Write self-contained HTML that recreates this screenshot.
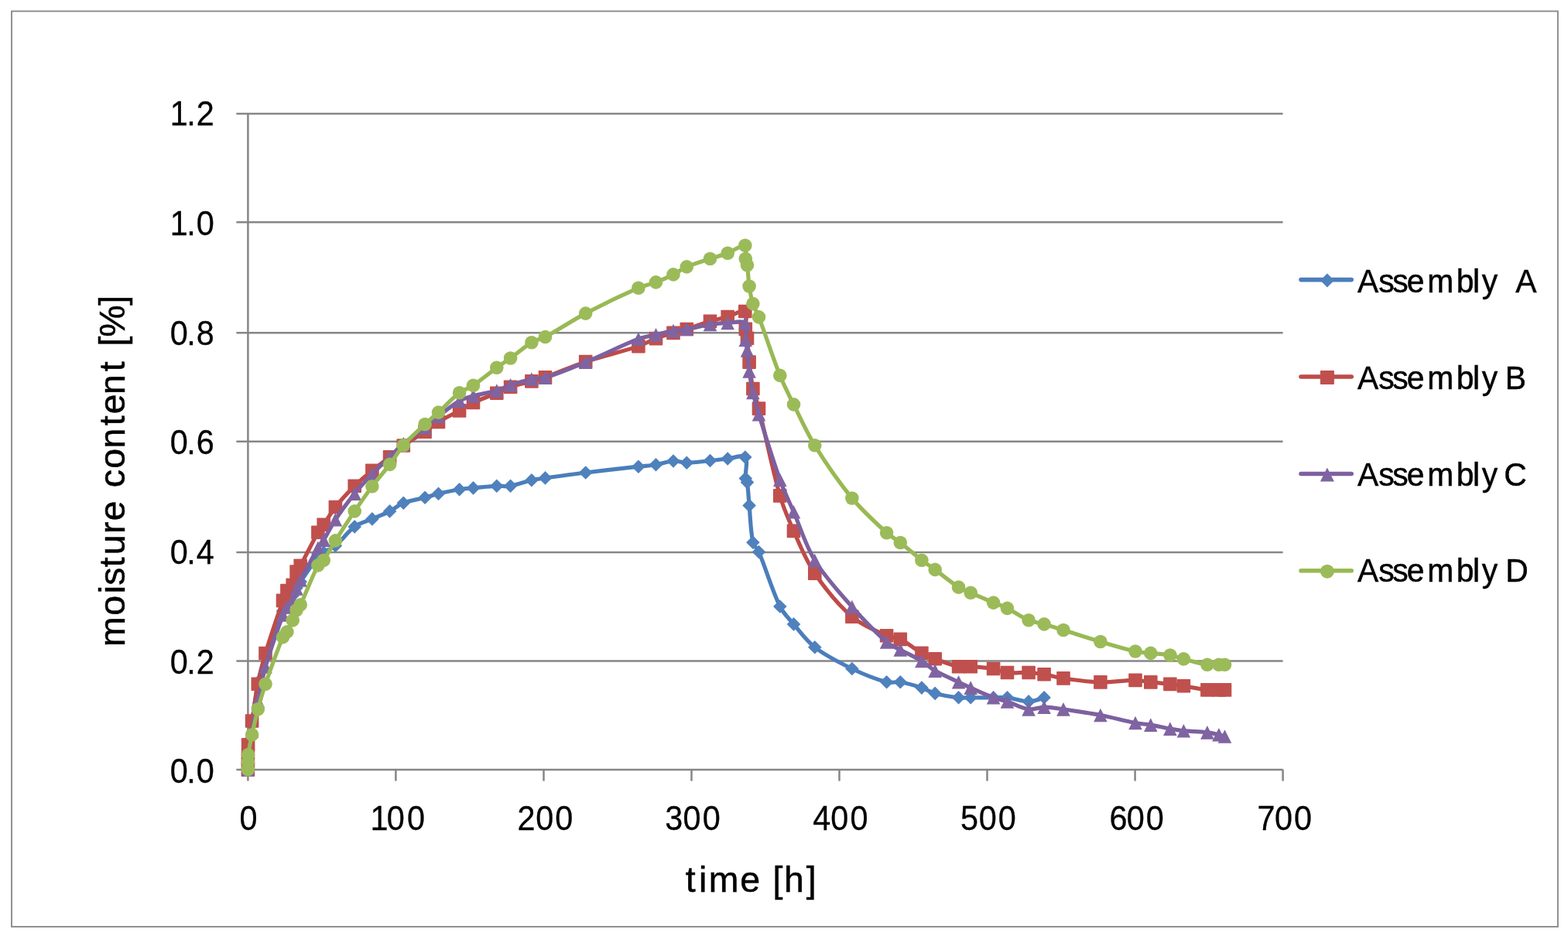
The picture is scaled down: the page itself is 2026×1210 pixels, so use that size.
<!DOCTYPE html>
<html lang="en"><head><meta charset="utf-8"><title>moisture content vs time</title>
<style>html,body{margin:0;padding:0;background:#fff}body{width:2026px;height:1210px;overflow:hidden}svg{display:block}text{font-family:"Liberation Sans",sans-serif;fill:#000;white-space:pre}</style></head><body>
<svg width="2026" height="1210" viewBox="0 0 2026 1210">
<rect x="0" y="0" width="2026" height="1210" fill="#fff"/>
<rect x="15.0" y="14.5" width="1997.9" height="1183.5" fill="none" stroke="#868686" stroke-width="1.8"/>
<g stroke="#868686" stroke-width="2.5" fill="none">
<path d="M305.4 147.1H1657.6"/>
<path d="M305.4 287.3H1657.6"/>
<path d="M305.4 430.2H1657.6"/>
<path d="M305.4 570.8H1657.6"/>
<path d="M305.4 714.0H1657.6"/>
<path d="M305.4 854.5H1657.6"/>
<path d="M305.4 994.9H1657.6"/>
<path d="M320.4 147.1V1009.6"/>
<path d="M511.4 994.9V1009.6"/>
<path d="M702.5 994.9V1009.6"/>
<path d="M893.5 994.9V1009.6"/>
<path d="M1084.5 994.9V1009.6"/>
<path d="M1275.5 994.9V1009.6"/>
<path d="M1466.6 994.9V1009.6"/>
<path d="M1657.6 994.9V1009.6"/>
</g>
<g fill="#4F81BD" stroke="none">
<path d="M320.4 994.9 C320.4 994.9 320.4 985.0 320.4 980.0 C320.4 975.0 320.0 970.0 320.6 965.0 C321.8 955.0 324.1 945.0 325.6 935.0 C328.3 917.4 329.8 899.5 333.3 882.0 C335.6 870.5 339.1 859.1 343.0 848.0 C349.8 828.4 357.6 809.2 365.5 790.0 C366.9 786.5 368.9 783.2 370.9 780.0 C373.1 776.5 376.1 773.5 378.2 770.0 C380.1 766.8 381.3 763.2 383.1 760.0 C384.6 757.2 386.4 754.6 388.2 752.0 C395.7 741.3 402.8 730.2 410.9 720.0 C412.8 717.5 415.6 715.7 418.2 714.0 C423.1 710.9 429.0 709.2 433.4 705.5 C442.3 698.1 448.9 687.6 458.2 680.9 C464.8 676.1 473.3 674.2 480.9 670.9 C488.5 667.6 496.3 664.7 503.6 660.9 C509.7 657.8 514.9 652.7 521.3 650.2 C530.1 646.8 539.9 645.7 549.1 643.2 C554.9 641.7 560.6 639.6 566.5 638.2 C575.5 636.1 584.5 634.2 593.6 632.7 C599.5 631.7 605.5 631.5 611.5 630.9 C621.6 630.0 631.7 628.8 641.8 628.2 C647.7 627.9 653.8 629.2 659.6 628.2 C668.8 626.7 677.7 622.8 686.9 620.7 C692.7 619.4 698.6 618.7 704.5 617.9 C721.9 615.5 739.3 613.1 756.7 611.0 C779.4 608.2 802.2 605.8 824.9 603.2 C832.4 602.3 840.0 601.9 847.5 600.7 C855.1 599.5 862.5 596.5 870.0 596.0 C875.7 595.6 881.5 598.3 887.3 598.2 C897.4 598.1 907.4 596.5 917.5 595.5 C925.1 594.8 932.6 593.8 940.2 593.0 C947.7 592.3 959.3 587.2 962.8 591.0 C967.0 595.7 962.6 609.5 963.3 618.5 C963.5 620.3 965.2 621.8 965.5 623.6 C966.8 633.4 967.2 643.5 968.1 653.4 C969.6 669.3 969.7 685.8 972.9 701.2 C973.9 705.8 978.6 709.1 980.5 713.5 C990.3 736.7 997.0 761.5 1007.8 784.0 C1012.0 792.6 1019.2 799.6 1025.5 806.9 C1034.2 817.1 1042.2 828.6 1052.8 836.7 C1067.3 847.8 1084.3 856.4 1100.9 864.5 C1115.2 871.5 1130.4 877.6 1145.6 881.8 C1151.2 883.4 1157.5 880.9 1163.3 881.8 C1172.6 883.3 1181.9 886.2 1190.9 889.1 C1196.8 891.0 1202.2 894.8 1208.2 896.4 C1218.1 899.0 1228.4 900.6 1238.6 901.8 C1243.7 902.4 1249.0 901.8 1254.2 901.8 C1264.0 901.8 1273.8 901.8 1283.6 901.8 C1289.6 901.8 1295.6 901.1 1301.5 901.8 C1310.8 902.8 1320.0 906.9 1329.1 906.9 C1335.8 906.9 1349.1 901.8 1349.1 901.8" fill="none" stroke="#4A7EBB" stroke-width="5.2" stroke-linecap="round" stroke-linejoin="round"/>
<path d="M320.4 986.1l8.8 8.8l-8.8 8.8l-8.8 -8.8z"/>
<path d="M320.4 971.2l8.8 8.8l-8.8 8.8l-8.8 -8.8z"/>
<path d="M320.6 956.2l8.8 8.8l-8.8 8.8l-8.8 -8.8z"/>
<path d="M325.6 926.2l8.8 8.8l-8.8 8.8l-8.8 -8.8z"/>
<path d="M333.3 873.2l8.8 8.8l-8.8 8.8l-8.8 -8.8z"/>
<path d="M343.0 839.2l8.8 8.8l-8.8 8.8l-8.8 -8.8z"/>
<path d="M365.5 781.2l8.8 8.8l-8.8 8.8l-8.8 -8.8z"/>
<path d="M370.9 771.2l8.8 8.8l-8.8 8.8l-8.8 -8.8z"/>
<path d="M378.2 761.2l8.8 8.8l-8.8 8.8l-8.8 -8.8z"/>
<path d="M383.1 751.2l8.8 8.8l-8.8 8.8l-8.8 -8.8z"/>
<path d="M388.2 743.2l8.8 8.8l-8.8 8.8l-8.8 -8.8z"/>
<path d="M410.9 711.2l8.8 8.8l-8.8 8.8l-8.8 -8.8z"/>
<path d="M418.2 705.2l8.8 8.8l-8.8 8.8l-8.8 -8.8z"/>
<path d="M433.4 696.7l8.8 8.8l-8.8 8.8l-8.8 -8.8z"/>
<path d="M458.2 672.1l8.8 8.8l-8.8 8.8l-8.8 -8.8z"/>
<path d="M480.9 662.1l8.8 8.8l-8.8 8.8l-8.8 -8.8z"/>
<path d="M503.6 652.1l8.8 8.8l-8.8 8.8l-8.8 -8.8z"/>
<path d="M521.3 641.4l8.8 8.8l-8.8 8.8l-8.8 -8.8z"/>
<path d="M549.1 634.4l8.8 8.8l-8.8 8.8l-8.8 -8.8z"/>
<path d="M566.5 629.4l8.8 8.8l-8.8 8.8l-8.8 -8.8z"/>
<path d="M593.6 623.9l8.8 8.8l-8.8 8.8l-8.8 -8.8z"/>
<path d="M611.5 622.1l8.8 8.8l-8.8 8.8l-8.8 -8.8z"/>
<path d="M641.8 619.4l8.8 8.8l-8.8 8.8l-8.8 -8.8z"/>
<path d="M659.6 619.4l8.8 8.8l-8.8 8.8l-8.8 -8.8z"/>
<path d="M686.9 611.9l8.8 8.8l-8.8 8.8l-8.8 -8.8z"/>
<path d="M704.5 609.1l8.8 8.8l-8.8 8.8l-8.8 -8.8z"/>
<path d="M756.7 602.2l8.8 8.8l-8.8 8.8l-8.8 -8.8z"/>
<path d="M824.9 594.4l8.8 8.8l-8.8 8.8l-8.8 -8.8z"/>
<path d="M847.5 591.9l8.8 8.8l-8.8 8.8l-8.8 -8.8z"/>
<path d="M870.0 587.2l8.8 8.8l-8.8 8.8l-8.8 -8.8z"/>
<path d="M887.3 589.4l8.8 8.8l-8.8 8.8l-8.8 -8.8z"/>
<path d="M917.5 586.7l8.8 8.8l-8.8 8.8l-8.8 -8.8z"/>
<path d="M940.2 584.2l8.8 8.8l-8.8 8.8l-8.8 -8.8z"/>
<path d="M962.8 582.2l8.8 8.8l-8.8 8.8l-8.8 -8.8z"/>
<path d="M963.3 609.7l8.8 8.8l-8.8 8.8l-8.8 -8.8z"/>
<path d="M965.5 614.8l8.8 8.8l-8.8 8.8l-8.8 -8.8z"/>
<path d="M968.1 644.6l8.8 8.8l-8.8 8.8l-8.8 -8.8z"/>
<path d="M972.9 692.4l8.8 8.8l-8.8 8.8l-8.8 -8.8z"/>
<path d="M980.5 704.7l8.8 8.8l-8.8 8.8l-8.8 -8.8z"/>
<path d="M1007.8 775.2l8.8 8.8l-8.8 8.8l-8.8 -8.8z"/>
<path d="M1025.5 798.1l8.8 8.8l-8.8 8.8l-8.8 -8.8z"/>
<path d="M1052.8 827.9l8.8 8.8l-8.8 8.8l-8.8 -8.8z"/>
<path d="M1100.9 855.7l8.8 8.8l-8.8 8.8l-8.8 -8.8z"/>
<path d="M1145.6 873.0l8.8 8.8l-8.8 8.8l-8.8 -8.8z"/>
<path d="M1163.3 873.0l8.8 8.8l-8.8 8.8l-8.8 -8.8z"/>
<path d="M1190.9 880.3l8.8 8.8l-8.8 8.8l-8.8 -8.8z"/>
<path d="M1208.2 887.6l8.8 8.8l-8.8 8.8l-8.8 -8.8z"/>
<path d="M1238.6 893.0l8.8 8.8l-8.8 8.8l-8.8 -8.8z"/>
<path d="M1254.2 893.0l8.8 8.8l-8.8 8.8l-8.8 -8.8z"/>
<path d="M1283.6 893.0l8.8 8.8l-8.8 8.8l-8.8 -8.8z"/>
<path d="M1301.5 893.0l8.8 8.8l-8.8 8.8l-8.8 -8.8z"/>
<path d="M1329.1 898.1l8.8 8.8l-8.8 8.8l-8.8 -8.8z"/>
<path d="M1349.1 893.0l8.8 8.8l-8.8 8.8l-8.8 -8.8z"/>
</g>
<g fill="#C0504D" stroke="none">
<path d="M320.4 994.9 C320.4 994.9 320.4 984.9 320.4 979.9 C320.4 974.2 320.0 968.4 320.6 962.7 C321.7 952.4 323.9 942.2 325.6 932.0 C328.2 916.1 330.2 900.1 333.3 884.3 C336.0 870.9 339.1 857.6 343.0 844.5 C349.8 821.6 357.7 799.0 365.5 776.4 C367.0 772.0 368.5 767.4 370.9 763.6 C372.7 760.8 376.7 759.4 378.2 756.4 C380.8 751.2 380.9 744.6 383.1 739.1 C384.2 736.2 386.7 734.0 388.2 731.3 C396.0 717.1 402.9 702.3 410.9 688.2 C412.9 684.6 415.9 681.6 418.2 678.2 C423.4 670.7 427.7 662.6 433.4 655.5 C441.1 645.9 449.5 636.9 458.2 628.2 C465.3 621.1 473.1 614.6 480.9 608.2 C488.2 602.2 496.2 596.8 503.6 590.9 C509.6 586.1 515.1 580.5 521.3 576.0 C530.2 569.6 540.0 564.4 549.1 558.2 C555.0 554.2 560.4 549.2 566.5 545.5 C575.2 540.1 584.6 535.9 593.6 530.9 C599.6 527.5 605.3 523.4 611.5 520.5 C621.3 515.9 631.8 512.4 641.8 508.2 C647.8 505.7 653.5 502.3 659.6 500.2 C668.5 497.2 677.8 495.4 686.9 492.9 C692.8 491.3 698.8 489.8 704.5 487.7 C722.0 481.4 739.0 473.5 756.7 467.6 C779.2 460.1 802.4 455.0 824.9 447.6 C832.7 445.0 839.8 440.5 847.5 437.6 C854.8 434.8 862.5 432.7 870.0 430.4 C875.7 428.7 881.6 427.3 887.3 425.5 C897.4 422.3 907.3 418.4 917.5 415.3 C925.0 413.0 932.7 411.6 940.2 409.5 C947.8 407.4 958.9 399.8 962.8 402.5 C966.6 405.1 962.7 417.8 963.3 425.4 C963.6 429.4 965.0 433.3 965.5 437.3 C966.6 447.5 966.9 457.9 968.1 468.1 C969.4 479.6 970.6 491.2 972.9 502.5 C974.7 511.2 978.3 519.5 980.5 528.1 C990.0 565.6 997.2 603.8 1007.8 640.9 C1012.2 656.5 1018.8 671.6 1025.5 686.4 C1033.8 705.0 1041.4 724.5 1052.8 741.2 C1066.5 761.4 1082.6 781.4 1100.9 797.3 C1113.5 808.3 1130.3 814.7 1145.6 821.8 C1151.1 824.4 1157.9 823.7 1163.3 826.4 C1173.0 831.2 1181.4 838.8 1190.9 844.2 C1196.4 847.3 1202.3 849.6 1208.2 851.8 C1218.2 855.5 1228.3 859.6 1238.6 861.8 C1243.6 862.9 1249.0 861.5 1254.2 861.8 C1264.0 862.4 1273.9 862.9 1283.6 864.5 C1289.7 865.5 1295.4 868.8 1301.5 869.5 C1310.6 870.5 1319.9 869.1 1329.1 869.5 C1335.8 869.8 1342.5 870.7 1349.1 871.8 C1357.5 873.2 1365.6 875.7 1374.0 876.9 C1389.9 879.1 1405.9 881.5 1421.9 881.9 C1436.9 882.3 1452.0 879.4 1467.0 879.4 C1473.6 879.4 1480.2 881.2 1486.8 881.9 C1495.2 882.8 1503.5 883.4 1511.9 884.4 C1517.7 885.1 1523.6 885.9 1529.4 886.8 C1539.6 888.4 1549.7 890.8 1559.9 891.9 C1564.9 892.5 1569.9 891.9 1574.9 891.9 C1577.4 891.9 1582.5 891.9 1582.5 891.9" fill="none" stroke="#BE4B48" stroke-width="5.2" stroke-linecap="round" stroke-linejoin="round"/>
<rect x="311.6" y="986.1" width="17.6" height="17.6" rx="0.8"/>
<rect x="311.6" y="971.1" width="17.6" height="17.6" rx="0.8"/>
<rect x="311.8" y="953.9" width="17.6" height="17.6" rx="0.8"/>
<rect x="316.8" y="923.2" width="17.6" height="17.6" rx="0.8"/>
<rect x="324.5" y="875.5" width="17.6" height="17.6" rx="0.8"/>
<rect x="334.2" y="835.7" width="17.6" height="17.6" rx="0.8"/>
<rect x="356.7" y="767.6" width="17.6" height="17.6" rx="0.8"/>
<rect x="362.1" y="754.8" width="17.6" height="17.6" rx="0.8"/>
<rect x="369.4" y="747.6" width="17.6" height="17.6" rx="0.8"/>
<rect x="374.3" y="730.3" width="17.6" height="17.6" rx="0.8"/>
<rect x="379.4" y="722.5" width="17.6" height="17.6" rx="0.8"/>
<rect x="402.1" y="679.4" width="17.6" height="17.6" rx="0.8"/>
<rect x="409.4" y="669.4" width="17.6" height="17.6" rx="0.8"/>
<rect x="424.6" y="646.7" width="17.6" height="17.6" rx="0.8"/>
<rect x="449.4" y="619.4" width="17.6" height="17.6" rx="0.8"/>
<rect x="472.1" y="599.4" width="17.6" height="17.6" rx="0.8"/>
<rect x="494.8" y="582.1" width="17.6" height="17.6" rx="0.8"/>
<rect x="512.5" y="567.2" width="17.6" height="17.6" rx="0.8"/>
<rect x="540.3" y="549.4" width="17.6" height="17.6" rx="0.8"/>
<rect x="557.7" y="536.7" width="17.6" height="17.6" rx="0.8"/>
<rect x="584.8" y="522.1" width="17.6" height="17.6" rx="0.8"/>
<rect x="602.7" y="511.7" width="17.6" height="17.6" rx="0.8"/>
<rect x="633.0" y="499.4" width="17.6" height="17.6" rx="0.8"/>
<rect x="650.8" y="491.4" width="17.6" height="17.6" rx="0.8"/>
<rect x="678.1" y="484.1" width="17.6" height="17.6" rx="0.8"/>
<rect x="695.7" y="478.9" width="17.6" height="17.6" rx="0.8"/>
<rect x="747.9" y="458.8" width="17.6" height="17.6" rx="0.8"/>
<rect x="816.1" y="438.8" width="17.6" height="17.6" rx="0.8"/>
<rect x="838.7" y="428.8" width="17.6" height="17.6" rx="0.8"/>
<rect x="861.2" y="421.6" width="17.6" height="17.6" rx="0.8"/>
<rect x="878.5" y="416.7" width="17.6" height="17.6" rx="0.8"/>
<rect x="908.7" y="406.5" width="17.6" height="17.6" rx="0.8"/>
<rect x="931.4" y="400.7" width="17.6" height="17.6" rx="0.8"/>
<rect x="954.0" y="393.7" width="17.6" height="17.6" rx="0.8"/>
<rect x="954.5" y="416.6" width="17.6" height="17.6" rx="0.8"/>
<rect x="956.7" y="428.5" width="17.6" height="17.6" rx="0.8"/>
<rect x="959.3" y="459.3" width="17.6" height="17.6" rx="0.8"/>
<rect x="964.1" y="493.7" width="17.6" height="17.6" rx="0.8"/>
<rect x="971.7" y="519.3" width="17.6" height="17.6" rx="0.8"/>
<rect x="999.0" y="632.1" width="17.6" height="17.6" rx="0.8"/>
<rect x="1016.7" y="677.6" width="17.6" height="17.6" rx="0.8"/>
<rect x="1044.0" y="732.4" width="17.6" height="17.6" rx="0.8"/>
<rect x="1092.1" y="788.5" width="17.6" height="17.6" rx="0.8"/>
<rect x="1136.8" y="813.0" width="17.6" height="17.6" rx="0.8"/>
<rect x="1154.5" y="817.6" width="17.6" height="17.6" rx="0.8"/>
<rect x="1182.1" y="835.4" width="17.6" height="17.6" rx="0.8"/>
<rect x="1199.4" y="843.0" width="17.6" height="17.6" rx="0.8"/>
<rect x="1229.8" y="853.0" width="17.6" height="17.6" rx="0.8"/>
<rect x="1245.4" y="853.0" width="17.6" height="17.6" rx="0.8"/>
<rect x="1274.8" y="855.7" width="17.6" height="17.6" rx="0.8"/>
<rect x="1292.7" y="860.7" width="17.6" height="17.6" rx="0.8"/>
<rect x="1320.3" y="860.7" width="17.6" height="17.6" rx="0.8"/>
<rect x="1340.3" y="863.0" width="17.6" height="17.6" rx="0.8"/>
<rect x="1365.2" y="868.1" width="17.6" height="17.6" rx="0.8"/>
<rect x="1413.1" y="873.1" width="17.6" height="17.6" rx="0.8"/>
<rect x="1458.2" y="870.6" width="17.6" height="17.6" rx="0.8"/>
<rect x="1478.0" y="873.1" width="17.6" height="17.6" rx="0.8"/>
<rect x="1503.1" y="875.6" width="17.6" height="17.6" rx="0.8"/>
<rect x="1520.6" y="878.0" width="17.6" height="17.6" rx="0.8"/>
<rect x="1551.1" y="883.1" width="17.6" height="17.6" rx="0.8"/>
<rect x="1566.1" y="883.1" width="17.6" height="17.6" rx="0.8"/>
<rect x="1573.7" y="883.1" width="17.6" height="17.6" rx="0.8"/>
</g>
<g fill="#8064A2" stroke="none">
<path d="M320.4 994.9 C320.4 994.9 320.4 989.0 320.4 986.0 C320.4 983.5 320.3 981.0 320.6 978.6 C322.0 967.4 323.6 956.2 325.6 945.0 C327.9 932.0 330.6 919.0 333.3 906.0 C336.4 891.3 338.8 876.4 343.0 862.0 C349.6 839.4 357.5 817.1 365.5 795.0 C366.8 791.4 368.9 788.2 370.9 785.0 C373.1 781.5 376.3 778.6 378.2 775.0 C380.4 770.6 381.3 765.6 383.1 761.0 C384.6 757.3 386.3 753.6 388.2 750.0 C395.6 736.0 403.0 721.9 410.9 708.2 C413.0 704.6 416.0 701.7 418.2 698.2 C423.5 689.6 427.8 680.2 433.4 671.8 C441.1 660.2 449.5 649.0 458.2 638.2 C465.3 629.3 473.0 620.9 480.9 612.7 C488.2 605.2 496.1 598.3 503.6 591.0 C509.5 585.2 515.0 578.9 521.3 573.6 C530.2 566.1 540.0 559.8 549.1 552.7 C555.0 548.0 560.5 542.8 566.5 538.2 C575.4 531.3 584.0 523.8 593.6 518.2 C599.0 515.0 605.4 513.5 611.5 511.8 C621.5 509.1 631.9 507.9 641.8 505.0 C647.9 503.2 653.5 499.8 659.6 497.8 C668.6 494.8 677.7 492.0 686.9 490.0 C692.6 488.8 698.9 489.9 704.5 488.2 C722.2 482.7 739.5 475.3 756.7 468.2 C779.6 458.7 801.8 447.2 824.9 438.2 C832.1 435.4 840.0 434.5 847.5 432.7 C855.0 430.9 862.4 429.0 870.0 427.6 C875.7 426.6 881.6 426.5 887.3 425.5 C897.4 423.8 907.4 421.1 917.5 419.5 C925.0 418.4 932.6 417.7 940.2 417.4 C947.7 417.1 958.9 414.0 962.8 417.8 C966.6 421.4 962.7 432.3 963.3 439.5 C963.6 444.0 965.0 448.4 965.5 452.9 C966.6 461.9 966.9 471.0 968.1 480.0 C969.3 489.2 970.9 498.4 972.9 507.5 C975.0 517.0 977.6 526.4 980.5 535.7 C989.3 564.0 997.8 592.4 1007.8 620.3 C1012.8 634.5 1019.5 648.0 1025.5 661.8 C1034.5 682.7 1041.0 705.2 1052.8 724.5 C1066.1 746.1 1084.0 765.3 1100.9 784.5 C1114.9 800.4 1129.8 816.0 1145.6 830.0 C1150.6 834.5 1157.3 836.8 1163.3 840.0 C1172.4 844.9 1182.0 849.1 1190.9 854.5 C1197.0 858.2 1202.0 863.6 1208.2 867.1 C1217.9 872.7 1228.4 876.9 1238.6 881.8 C1243.8 884.3 1249.0 886.8 1254.2 889.1 C1264.0 893.4 1273.6 898.0 1283.6 901.8 C1289.4 904.0 1295.6 904.9 1301.5 906.9 C1310.8 910.0 1319.7 915.5 1329.1 916.9 C1335.6 917.9 1342.4 914.2 1349.1 914.2 C1357.4 914.2 1365.7 915.7 1374.0 916.9 C1390.0 919.2 1406.0 921.5 1421.9 924.5 C1437.0 927.4 1451.9 931.6 1467.0 934.5 C1473.5 935.8 1480.2 936.0 1486.8 937.1 C1495.2 938.5 1503.5 940.6 1511.9 942.1 C1517.7 943.1 1523.5 944.1 1529.4 944.7 C1539.5 945.7 1549.8 945.8 1559.9 946.9 C1565.0 947.5 1569.9 948.7 1574.9 949.8 C1577.5 950.4 1582.5 952.0 1582.5 952.0" fill="none" stroke="#7D60A0" stroke-width="5.2" stroke-linecap="round" stroke-linejoin="round"/>
<path d="M320.4 986.1l8.8 17.6l-17.6 0z"/>
<path d="M320.4 977.2l8.8 17.6l-17.6 0z"/>
<path d="M320.6 969.8l8.8 17.6l-17.6 0z"/>
<path d="M325.6 936.2l8.8 17.6l-17.6 0z"/>
<path d="M333.3 897.2l8.8 17.6l-17.6 0z"/>
<path d="M343.0 853.2l8.8 17.6l-17.6 0z"/>
<path d="M365.5 786.2l8.8 17.6l-17.6 0z"/>
<path d="M370.9 776.2l8.8 17.6l-17.6 0z"/>
<path d="M378.2 766.2l8.8 17.6l-17.6 0z"/>
<path d="M383.1 752.2l8.8 17.6l-17.6 0z"/>
<path d="M388.2 741.2l8.8 17.6l-17.6 0z"/>
<path d="M410.9 699.4l8.8 17.6l-17.6 0z"/>
<path d="M418.2 689.4l8.8 17.6l-17.6 0z"/>
<path d="M433.4 663.0l8.8 17.6l-17.6 0z"/>
<path d="M458.2 629.4l8.8 17.6l-17.6 0z"/>
<path d="M480.9 603.9l8.8 17.6l-17.6 0z"/>
<path d="M503.6 582.2l8.8 17.6l-17.6 0z"/>
<path d="M521.3 564.8l8.8 17.6l-17.6 0z"/>
<path d="M549.1 543.9l8.8 17.6l-17.6 0z"/>
<path d="M566.5 529.4l8.8 17.6l-17.6 0z"/>
<path d="M593.6 509.4l8.8 17.6l-17.6 0z"/>
<path d="M611.5 503.0l8.8 17.6l-17.6 0z"/>
<path d="M641.8 496.2l8.8 17.6l-17.6 0z"/>
<path d="M659.6 489.0l8.8 17.6l-17.6 0z"/>
<path d="M686.9 481.2l8.8 17.6l-17.6 0z"/>
<path d="M704.5 479.4l8.8 17.6l-17.6 0z"/>
<path d="M756.7 459.4l8.8 17.6l-17.6 0z"/>
<path d="M824.9 429.4l8.8 17.6l-17.6 0z"/>
<path d="M847.5 423.9l8.8 17.6l-17.6 0z"/>
<path d="M870.0 418.8l8.8 17.6l-17.6 0z"/>
<path d="M887.3 416.7l8.8 17.6l-17.6 0z"/>
<path d="M917.5 410.7l8.8 17.6l-17.6 0z"/>
<path d="M940.2 408.6l8.8 17.6l-17.6 0z"/>
<path d="M962.8 409.0l8.8 17.6l-17.6 0z"/>
<path d="M963.3 430.7l8.8 17.6l-17.6 0z"/>
<path d="M965.5 444.1l8.8 17.6l-17.6 0z"/>
<path d="M968.1 471.2l8.8 17.6l-17.6 0z"/>
<path d="M972.9 498.7l8.8 17.6l-17.6 0z"/>
<path d="M980.5 526.9l8.8 17.6l-17.6 0z"/>
<path d="M1007.8 611.5l8.8 17.6l-17.6 0z"/>
<path d="M1025.5 653.0l8.8 17.6l-17.6 0z"/>
<path d="M1052.8 715.7l8.8 17.6l-17.6 0z"/>
<path d="M1100.9 775.7l8.8 17.6l-17.6 0z"/>
<path d="M1145.6 821.2l8.8 17.6l-17.6 0z"/>
<path d="M1163.3 831.2l8.8 17.6l-17.6 0z"/>
<path d="M1190.9 845.7l8.8 17.6l-17.6 0z"/>
<path d="M1208.2 858.3l8.8 17.6l-17.6 0z"/>
<path d="M1238.6 873.0l8.8 17.6l-17.6 0z"/>
<path d="M1254.2 880.3l8.8 17.6l-17.6 0z"/>
<path d="M1283.6 893.0l8.8 17.6l-17.6 0z"/>
<path d="M1301.5 898.1l8.8 17.6l-17.6 0z"/>
<path d="M1329.1 908.1l8.8 17.6l-17.6 0z"/>
<path d="M1349.1 905.4l8.8 17.6l-17.6 0z"/>
<path d="M1374.0 908.1l8.8 17.6l-17.6 0z"/>
<path d="M1421.9 915.7l8.8 17.6l-17.6 0z"/>
<path d="M1467.0 925.7l8.8 17.6l-17.6 0z"/>
<path d="M1486.8 928.3l8.8 17.6l-17.6 0z"/>
<path d="M1511.9 933.3l8.8 17.6l-17.6 0z"/>
<path d="M1529.4 935.9l8.8 17.6l-17.6 0z"/>
<path d="M1559.9 938.1l8.8 17.6l-17.6 0z"/>
<path d="M1574.9 941.0l8.8 17.6l-17.6 0z"/>
<path d="M1582.5 943.2l8.8 17.6l-17.6 0z"/>
</g>
<g fill="#9BBB59" stroke="none">
<path d="M320.4 994.9 C320.4 994.9 320.4 988.5 320.4 985.3 C320.4 982.1 320.1 978.8 320.6 975.6 C321.9 967.0 323.8 958.4 325.6 949.8 C328.0 938.8 330.4 927.7 333.3 916.8 C336.2 905.9 339.3 895.0 343.0 884.3 C350.0 863.9 357.3 843.4 365.5 823.6 C366.6 821.0 369.5 819.4 370.9 816.9 C373.7 812.1 376.0 807.0 378.2 801.9 C380.1 797.6 381.0 792.9 383.1 788.7 C384.4 786.2 387.0 784.4 388.2 781.8 C396.2 765.1 402.4 747.2 410.9 730.9 C412.4 728.0 416.3 726.9 418.2 724.2 C423.8 716.2 428.1 707.2 433.4 698.9 C441.5 686.1 449.7 673.4 458.2 660.9 C465.6 650.0 473.0 639.2 480.9 628.7 C488.2 619.0 496.3 610.0 503.6 600.4 C509.7 592.4 514.7 583.4 521.3 575.8 C529.8 566.1 539.7 557.4 549.1 548.5 C554.7 543.2 560.8 538.3 566.5 533.1 C575.6 524.8 583.9 515.3 593.6 507.8 C598.9 503.7 605.9 502.0 611.5 498.2 C622.0 491.1 631.6 482.8 641.8 475.3 C647.6 471.0 653.8 467.2 659.6 463.0 C668.8 456.4 677.3 448.6 686.9 442.7 C692.3 439.4 698.9 438.5 704.5 435.5 C722.2 426.0 738.9 414.5 756.7 405.1 C779.0 393.4 801.9 382.4 824.9 372.2 C832.1 369.0 840.1 367.7 847.5 364.9 C855.2 362.0 862.7 358.6 870.0 354.9 C875.9 351.9 881.2 347.5 887.3 344.9 C897.0 340.7 907.4 337.9 917.5 334.5 C925.0 332.0 932.8 330.1 940.2 327.3 C947.9 324.4 958.3 315.9 962.8 317.3 C966.0 318.3 962.7 328.8 963.3 334.5 C963.6 337.3 965.1 339.9 965.5 342.7 C966.7 351.7 966.8 361.0 968.1 370.0 C969.2 377.6 970.6 385.3 972.9 392.6 C974.8 398.6 978.3 404.0 980.5 409.9 C989.9 434.9 997.9 460.6 1007.8 485.4 C1012.9 498.2 1019.3 510.5 1025.5 522.9 C1034.3 540.7 1042.3 559.0 1052.8 575.8 C1067.5 599.4 1083.3 622.6 1100.9 644.0 C1114.2 660.2 1130.1 674.5 1145.6 688.7 C1150.9 693.6 1157.6 697.0 1163.3 701.5 C1172.7 708.8 1181.5 716.9 1190.9 724.2 C1196.5 728.5 1202.5 732.2 1208.2 736.4 C1218.4 743.9 1228.0 752.3 1238.6 759.1 C1243.4 762.2 1249.0 763.9 1254.2 766.2 C1264.0 770.5 1273.8 774.9 1283.6 779.1 C1289.5 781.6 1295.7 783.5 1301.5 786.4 C1310.9 791.1 1319.5 797.7 1329.1 801.8 C1335.4 804.5 1342.5 805.0 1349.1 806.9 C1357.4 809.3 1365.7 811.9 1374.0 814.5 C1390.0 819.5 1405.9 824.8 1421.9 829.5 C1436.9 833.9 1451.8 838.5 1467.0 842.0 C1473.5 843.5 1480.2 843.7 1486.8 844.4 C1495.2 845.3 1503.6 845.5 1511.9 847.0 C1517.8 848.0 1523.5 850.4 1529.4 851.9 C1539.5 854.5 1549.6 857.6 1559.9 859.3 C1564.8 860.1 1569.9 859.3 1574.9 859.3 C1577.4 859.3 1582.5 859.3 1582.5 859.3" fill="none" stroke="#98B954" stroke-width="5.2" stroke-linecap="round" stroke-linejoin="round"/>
<circle cx="320.4" cy="994.9" r="8.8"/>
<circle cx="320.4" cy="985.3" r="8.8"/>
<circle cx="320.6" cy="975.6" r="8.8"/>
<circle cx="325.6" cy="949.8" r="8.8"/>
<circle cx="333.3" cy="916.8" r="8.8"/>
<circle cx="343.0" cy="884.3" r="8.8"/>
<circle cx="365.5" cy="823.6" r="8.8"/>
<circle cx="370.9" cy="816.9" r="8.8"/>
<circle cx="378.2" cy="801.9" r="8.8"/>
<circle cx="383.1" cy="788.7" r="8.8"/>
<circle cx="388.2" cy="781.8" r="8.8"/>
<circle cx="410.9" cy="730.9" r="8.8"/>
<circle cx="418.2" cy="724.2" r="8.8"/>
<circle cx="433.4" cy="698.9" r="8.8"/>
<circle cx="458.2" cy="660.9" r="8.8"/>
<circle cx="480.9" cy="628.7" r="8.8"/>
<circle cx="503.6" cy="600.4" r="8.8"/>
<circle cx="521.3" cy="575.8" r="8.8"/>
<circle cx="549.1" cy="548.5" r="8.8"/>
<circle cx="566.5" cy="533.1" r="8.8"/>
<circle cx="593.6" cy="507.8" r="8.8"/>
<circle cx="611.5" cy="498.2" r="8.8"/>
<circle cx="641.8" cy="475.3" r="8.8"/>
<circle cx="659.6" cy="463.0" r="8.8"/>
<circle cx="686.9" cy="442.7" r="8.8"/>
<circle cx="704.5" cy="435.5" r="8.8"/>
<circle cx="756.7" cy="405.1" r="8.8"/>
<circle cx="824.9" cy="372.2" r="8.8"/>
<circle cx="847.5" cy="364.9" r="8.8"/>
<circle cx="870.0" cy="354.9" r="8.8"/>
<circle cx="887.3" cy="344.9" r="8.8"/>
<circle cx="917.5" cy="334.5" r="8.8"/>
<circle cx="940.2" cy="327.3" r="8.8"/>
<circle cx="962.8" cy="317.3" r="8.8"/>
<circle cx="963.3" cy="334.5" r="8.8"/>
<circle cx="965.5" cy="342.7" r="8.8"/>
<circle cx="968.1" cy="370.0" r="8.8"/>
<circle cx="972.9" cy="392.6" r="8.8"/>
<circle cx="980.5" cy="409.9" r="8.8"/>
<circle cx="1007.8" cy="485.4" r="8.8"/>
<circle cx="1025.5" cy="522.9" r="8.8"/>
<circle cx="1052.8" cy="575.8" r="8.8"/>
<circle cx="1100.9" cy="644.0" r="8.8"/>
<circle cx="1145.6" cy="688.7" r="8.8"/>
<circle cx="1163.3" cy="701.5" r="8.8"/>
<circle cx="1190.9" cy="724.2" r="8.8"/>
<circle cx="1208.2" cy="736.4" r="8.8"/>
<circle cx="1238.6" cy="759.1" r="8.8"/>
<circle cx="1254.2" cy="766.2" r="8.8"/>
<circle cx="1283.6" cy="779.1" r="8.8"/>
<circle cx="1301.5" cy="786.4" r="8.8"/>
<circle cx="1329.1" cy="801.8" r="8.8"/>
<circle cx="1349.1" cy="806.9" r="8.8"/>
<circle cx="1374.0" cy="814.5" r="8.8"/>
<circle cx="1421.9" cy="829.5" r="8.8"/>
<circle cx="1467.0" cy="842.0" r="8.8"/>
<circle cx="1486.8" cy="844.4" r="8.8"/>
<circle cx="1511.9" cy="847.0" r="8.8"/>
<circle cx="1529.4" cy="851.9" r="8.8"/>
<circle cx="1559.9" cy="859.3" r="8.8"/>
<circle cx="1574.9" cy="859.3" r="8.8"/>
<circle cx="1582.5" cy="859.3" r="8.8"/>
</g>
<g fill="#4F81BD"><path d="M1681.0 361.6H1746.2" stroke="#4A7EBB" stroke-width="5.6" stroke-linecap="round" fill="none"/><path d="M1714.9 353.5l9.0 9.0l-9.0 9.0l-9.0 -9.0z"/></g>
<g fill="#C0504D"><path d="M1681.0 487.0H1746.2" stroke="#BE4B48" stroke-width="5.6" stroke-linecap="round" fill="none"/><rect x="1705.9" y="478.9" width="18.0" height="18.0" rx="0.8"/></g>
<g fill="#8064A2"><path d="M1681.0 612.5H1746.2" stroke="#7D60A0" stroke-width="5.6" stroke-linecap="round" fill="none"/><path d="M1714.9 604.4l9.0 18.0l-18.0 0z"/></g>
<g fill="#9BBB59"><path d="M1681.0 737.8H1746.2" stroke="#98B954" stroke-width="5.6" stroke-linecap="round" fill="none"/><circle cx="1714.9" cy="738.7" r="9.0"/></g>
<text transform="translate(1754.00 378.00) scale(0.950 1)" font-size="43" stroke="#000" stroke-width="0.5" x="0.13 28.59 47.53 67.14 95.13 134.40 156.90 169.08 190.58 202.53 215.13" y="0" xml:space="preserve">Assembly  A</text>
<text transform="translate(1754.00 503.00) scale(0.950 1)" font-size="43" stroke="#000" stroke-width="0.5" x="0.13 28.59 47.53 67.14 95.13 134.40 156.90 169.08 190.58 200.92" y="0" xml:space="preserve">Assembly B</text>
<text transform="translate(1754.00 628.00) scale(0.950 1)" font-size="43" stroke="#000" stroke-width="0.5" x="0.13 28.59 47.53 67.14 95.13 134.40 156.90 169.08 190.58 199.25" y="0" xml:space="preserve">Assembly C</text>
<text transform="translate(1754.00 752.00) scale(0.950 1)" font-size="43" stroke="#000" stroke-width="0.5" x="0.13 28.59 47.53 67.14 95.13 134.40 156.90 169.08 190.58 201.37" y="0" xml:space="preserve">Assembly D</text>
<text transform="translate(200.00 162.10) scale(0.950 1)" font-size="43.6" stroke="#000" stroke-width="0.3" x="20.82 43.36 56.51" y="0" xml:space="preserve">1.2</text>
<text transform="translate(200.00 303.80) scale(0.950 1)" font-size="43.6" stroke="#000" stroke-width="0.3" x="20.82 43.36 56.51" y="0" xml:space="preserve">1.0</text>
<text transform="translate(200.00 445.50) scale(0.950 1)" font-size="43.6" stroke="#000" stroke-width="0.3" x="20.82 43.36 56.51" y="0" xml:space="preserve">0.8</text>
<text transform="translate(200.00 587.20) scale(0.950 1)" font-size="43.6" stroke="#000" stroke-width="0.3" x="20.82 43.36 56.51" y="0" xml:space="preserve">0.6</text>
<text transform="translate(200.00 728.90) scale(0.950 1)" font-size="43.6" stroke="#000" stroke-width="0.3" x="20.82 43.36 56.51" y="0" xml:space="preserve">0.4</text>
<text transform="translate(200.00 870.60) scale(0.950 1)" font-size="43.6" stroke="#000" stroke-width="0.3" x="20.82 43.36 56.51" y="0" xml:space="preserve">0.2</text>
<text transform="translate(200.00 1012.30) scale(0.950 1)" font-size="43.6" stroke="#000" stroke-width="0.3" x="20.82 43.36 56.51" y="0" xml:space="preserve">0.0</text>
<text transform="translate(291.05 1073.00) scale(0.950 1)" font-size="43.6" stroke="#000" stroke-width="0.3" x="19.45" y="0" xml:space="preserve">0</text>
<text transform="translate(460.60 1073.00) scale(0.950 1)" font-size="43.6" stroke="#000" stroke-width="0.3" x="18.86 41.24 68.72" y="0" xml:space="preserve">100</text>
<text transform="translate(649.90 1073.00) scale(0.950 1)" font-size="43.6" stroke="#000" stroke-width="0.3" x="19.45 44.51 70.93" y="0" xml:space="preserve">200</text>
<text transform="translate(840.60 1073.00) scale(0.950 1)" font-size="43.6" stroke="#000" stroke-width="0.3" x="19.58 44.14 70.61" y="0" xml:space="preserve">300</text>
<text transform="translate(1031.75 1073.00) scale(0.950 1)" font-size="43.6" stroke="#000" stroke-width="0.3" x="19.59 43.61 70.14" y="0" xml:space="preserve">400</text>
<text transform="translate(1222.60 1073.00) scale(0.950 1)" font-size="43.6" stroke="#000" stroke-width="0.3" x="19.50 44.30 70.61" y="0" xml:space="preserve">500</text>
<text transform="translate(1415.20 1073.00) scale(0.950 1)" font-size="43.6" stroke="#000" stroke-width="0.3" x="19.31 42.61 69.14" y="0" xml:space="preserve">600</text>
<text transform="translate(1606.05 1073.00) scale(0.950 1)" font-size="43.6" stroke="#000" stroke-width="0.3" x="19.43 43.09 69.51" y="0" xml:space="preserve">700</text>
<text transform="translate(880.00 1152.80)" font-size="46.5" stroke="#000" stroke-width="0.5" x="5.81 22.95 35.72 76.21 102.08 118.61 133.07 161.72" y="0" xml:space="preserve">time [h]</text>
<text transform="translate(160.60 833.90) rotate(-90)" font-size="46.5" stroke="#000" stroke-width="0.5" x="-2.18 38.22 66.75 77.17 100.66 116.70 143.95 160.71 186.58 203.60 228.22 254.49 283.61 298.71 323.89 353.71 366.63 386.51 398.28 439.07" y="0" xml:space="preserve">moisture content [%]</text>
</svg></body></html>
